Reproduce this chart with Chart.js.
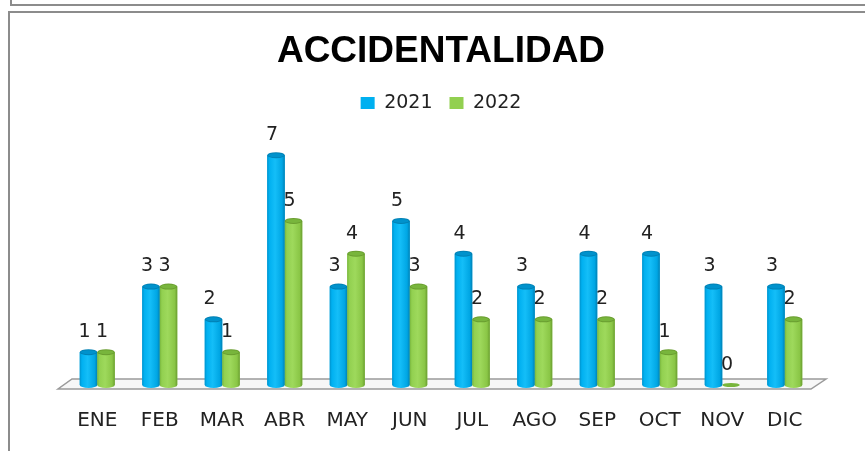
<!DOCTYPE html>
<html>
<head>
<meta charset="utf-8">
<title>Accidentalidad</title>
<script src="https://cdn.jsdelivr.net/npm/chart.js@4.4.1/dist/chart.umd.min.js"></script>
<style>
  body { margin: 0; background: #fff; }
  #wrap { position: relative; width: 865px; height: 451px; overflow: hidden; }
  #accidentalidad { position: absolute; left: 0; top: 0; }
  .linea { position: absolute; background: #8c8c8c; }
</style>
</head>
<body>
<div id="wrap">
  <canvas id="accidentalidad" width="865" height="451"></canvas>
  <!-- marcos grises de la hoja -->
  <div class="linea" style="left:10px;top:0;width:2px;height:5px"></div>
  <div class="linea" style="left:10px;top:4px;width:855px;height:2px"></div>
  <div class="linea" style="left:8px;top:11px;width:857px;height:2px"></div>
  <div class="linea" style="left:8px;top:11px;width:2px;height:440px"></div>
</div>
<script>
// Datos de la gráfica
const meses = ["ENE", "FEB", "MAR", "ABR", "MAY", "JUN", "JUL", "AGO", "SEP", "OCT", "NOV", "DIC"];
const accidentes2021 = [1, 3, 2, 7, 3, 5, 4, 3, 4, 4, 3, 3];
const accidentes2022 = [1, 3, 1, 5, 4, 3, 2, 2, 2, 1, 0, 2];
const ejeY = [0, 8];

const azul = '#00b0f0';
const verde = '#92d050';
// tonos para el efecto de cilindro (borde, base, brillo, sombra, borde derecho)
const tonos = {
  '#00b0f0': ['#0092cc', '#00b0f0', '#14bef8', '#00a6e4', '#0080b4'],
  '#92d050': ['#78b53c', '#92d050', '#9ed95c', '#8ac646', '#6a9e30']
};

// Piso en perspectiva debajo de las barras
const piso = {
  id: 'piso',
  beforeDatasetsDraw(chart) {
    const ctx = chart.ctx;
    const x = chart.scales.x, y = chart.scales.y;
    const y0 = y.getPixelForValue(0);
    ctx.save();
    ctx.beginPath();
    ctx.moveTo(x.left + 6, y0 - 6);
    ctx.lineTo(x.right + 10, y0 - 6);
    ctx.lineTo(x.right - 5, y0 + 4);
    ctx.lineTo(x.left - 8, y0 + 4);
    ctx.closePath();
    ctx.fillStyle = '#f7f7f7';
    ctx.fill();
    ctx.strokeStyle = '#9a9a9a';
    ctx.lineWidth = 1.5;
    ctx.stroke();
    ctx.restore();
  }
};

// Cilindros y etiquetas de valor
const cilindros = {
  id: 'cilindros',
  afterDatasetsDraw(chart) {
    const ctx = chart.ctx;
    chart.data.datasets.forEach((ds, i) => {
      const meta = chart.getDatasetMeta(i);
      const t = tonos[ds.backgroundColor];
      meta.data.forEach((bar, j) => {
        const w = bar.width, l = bar.x - w / 2, r = bar.x + w / 2;
        const ry = 3;
        ctx.save();
        if (bar.base - bar.y > 0.5) {
          const g = ctx.createLinearGradient(l, 0, r, 0);
          g.addColorStop(0, t[0]);
          g.addColorStop(0.12, t[1]);
          g.addColorStop(0.45, t[2]);
          g.addColorStop(0.85, t[3]);
          g.addColorStop(1, t[4]);
          ctx.fillStyle = g;
          ctx.fillRect(l, bar.y, w, bar.base - bar.y);
          ctx.beginPath();
          ctx.ellipse(bar.x, bar.base, w / 2, ry, 0, 0, Math.PI);
          ctx.fill();
          ctx.beginPath();
          ctx.ellipse(bar.x, bar.y, w / 2, ry, 0, 0, Math.PI * 2);
          ctx.fillStyle = t[4];
          ctx.fill();
          ctx.beginPath();
          ctx.ellipse(bar.x, bar.y, w / 2 - 1, ry - 1, 0, 0, Math.PI * 2);
          ctx.fillStyle = t[0];
          ctx.fill();
        } else {
          ctx.beginPath();
          ctx.ellipse(bar.x, bar.base, w / 2, 2, 0, 0, Math.PI * 2);
          ctx.fillStyle = t[0];
          ctx.fill();
        }
        // etiqueta del valor
        ctx.fillStyle = '#222';
        ctx.font = '19px "DejaVu Sans"';
        ctx.textAlign = 'center';
        ctx.textBaseline = 'middle';
        ctx.fillText(ds.data[j], bar.x - 4, bar.y - 20);
        ctx.restore();
      });
    });
  }
};

new Chart(document.getElementById("accidentalidad"), {
  type: 'bar',
  data: {
    labels: meses,
    datasets: [
      { label: "2021", data: accidentes2021, backgroundColor: azul, categoryPercentage: 0.56, barPercentage: 1 },
      { label: "2022", data: accidentes2022, backgroundColor: verde, categoryPercentage: 0.56, barPercentage: 1 }
    ]
  },
  options: {
    responsive: false,
    animation: false,
    devicePixelRatio: 1,
    layout: { padding: { left: 66, right: 49, top: 12, bottom: -6 } },
    scales: {
      x: {
        grid: { display: false, drawTicks: false },
        border: { display: false },
        ticks: { color: '#222', font: { family: '"DejaVu Sans"', size: 20 }, padding: 24 }
      },
      y: {
        display: false,
        min: ejeY[0],
        max: ejeY[1]
      }
    },
    plugins: {
      title: {
        display: true,
        text: 'ACCIDENTALIDAD',
        color: '#000',
        font: { family: '"Liberation Sans"', size: 37, weight: 'bold' },
        padding: { top: 18, bottom: 2 }
      },
      legend: {
        labels: {
          color: '#222',
          font: { family: '"DejaVu Sans"', size: 19 },
          boxWidth: 14,
          boxHeight: 12,
          padding: 17
        }
      },
      tooltip: { enabled: false }
    }
  },
  plugins: [piso, cilindros]
});
</script>
</body>
</html>
